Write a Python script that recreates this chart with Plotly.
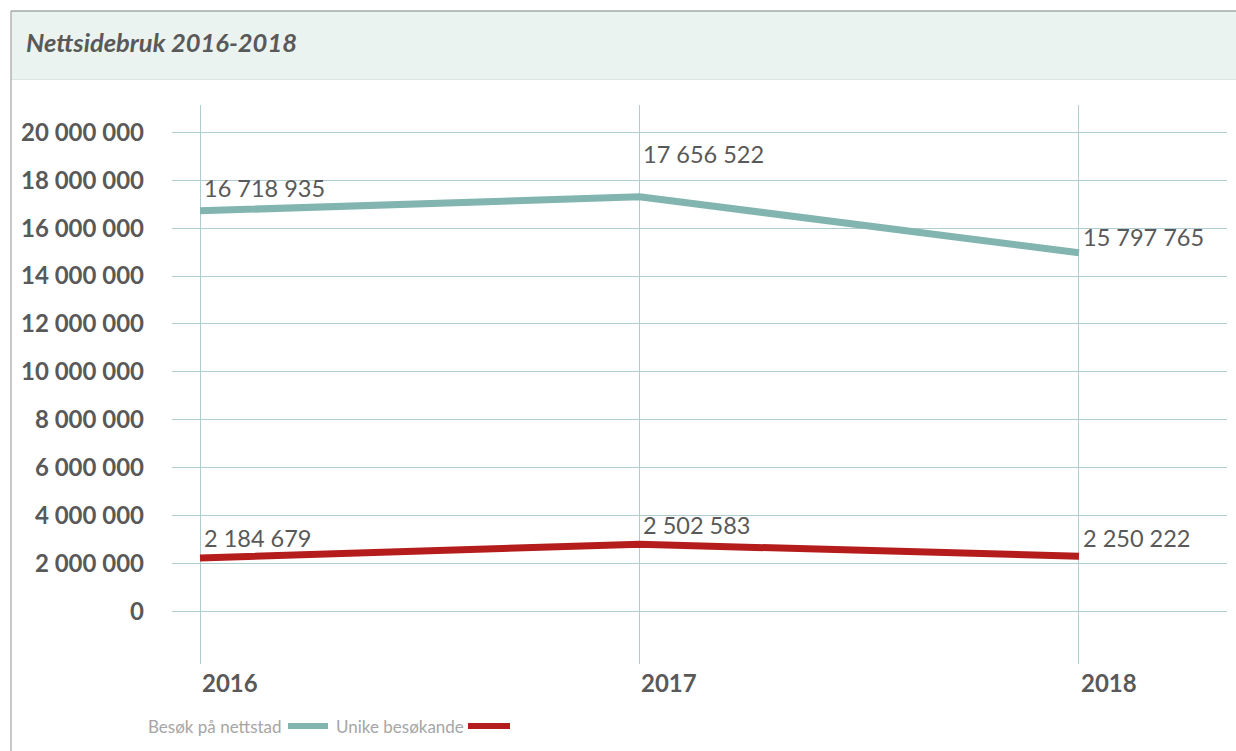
import plotly.graph_objects as go

TEXT_GREY = "#595959"
LEGEND_GREY = "#A6A6A6"
GRID = "#AFCDCF"
TEAL = "#82B5B0"
RED = "#B51C1C"
TITLE_BG = "#EAF3EF"
FONT = "Lato"

# data (line positions, labels as printed)
years = ["2016", "2017", "2018"]
series_names = ["Besøk på nettstad", "Unike besøkande"]
visits = [16_720_000, 17_310_000, 14_970_000]
unique_visitors = [2_230_000, 2_800_000, 2_300_000]
visits_labels = ["16 718 935", "17 656 522", "15 797 765"]
unique_labels = ["2 184 679", "2 502 583", "2 250 222"]
y_ticks = list(range(0, 20_000_001, 2_000_000))

# how far each printed label sits above its point (px)
visits_lift = [23, 43, 16]
unique_lift = [20, 19, 18]

# page geometry (px) used to place the frame, title box and legend
W, H = 1236, 751
L, R, T, B = 172, 9, 105, 87


def px_x(px):
    return (px - L) / (W - L - R)


def px_y(py):
    return (H - B - py) / (H - T - B)


fig = go.Figure()
for name, vals, color in [
    (series_names[0], visits, TEAL),
    (series_names[1], unique_visitors, RED),
]:
    fig.add_trace(
        go.Scatter(
            x=years,
            y=vals,
            mode="lines",
            name=name,
            line={"color": color, "width": 7},
            showlegend=False,
        )
    )

annotations = []
for vals, labels, lifts in [
    (visits, visits_labels, visits_lift),
    (unique_visitors, unique_labels, unique_lift),
]:
    for i, (v, txt, lift) in enumerate(zip(vals, labels, lifts)):
        annotations.append(
            dict(
                x=i, y=v, xref="x", yref="y", text=txt, showarrow=False,
                xanchor="left", yanchor="middle", xshift=2, yshift=lift,
                font={"family": FONT, "size": 23.5, "color": TEXT_GREY},
            )
        )

# year labels, left-aligned on their gridlines
for i, yr in enumerate(years):
    annotations.append(
        dict(
            x=i, y=px_y(682), xref="x", yref="paper", text=f"<b>{yr}</b>",
            showarrow=False, xanchor="left", yanchor="middle", xshift=0,
            font={"family": FONT, "size": 24, "color": TEXT_GREY},
        )
    )

# legend: text first, then the line sample
legend_items = [(series_names[0], 148, 288, 328, TEAL), (series_names[1], 336, 468, 510, RED)]
shapes = [
    dict(type="rect", xref="paper", yref="paper",
         x0=px_x(11), x1=px_x(1245), y0=px_y(79), y1=px_y(11),
         fillcolor=TITLE_BG, line={"width": 0}, layer="below"),
    dict(type="line", xref="paper", yref="paper",
         x0=px_x(11), x1=px_x(1245), y0=px_y(11), y1=px_y(11),
         line={"color": "#A3ABA7", "width": 1.5}),
    dict(type="line", xref="paper", yref="paper",
         x0=px_x(11), x1=px_x(1245), y0=px_y(79.5), y1=px_y(79.5),
         line={"color": "#DCE7E2", "width": 1}),
    dict(type="line", xref="paper", yref="paper",
         x0=px_x(11), x1=px_x(11), y0=px_y(11), y1=px_y(760),
         line={"color": "#A3A3A3", "width": 1.2}),
]
for name, tx, lx0, lx1, color in legend_items:
    annotations.append(
        dict(
            x=px_x(tx), y=px_y(726), xref="paper", yref="paper", text=name,
            showarrow=False, xanchor="left", yanchor="middle", xshift=-2,
            font={"family": FONT, "size": 17, "color": LEGEND_GREY},
        )
    )
    shapes.append(
        dict(type="line", xref="paper", yref="paper",
             x0=px_x(lx0), x1=px_x(lx1), y0=px_y(726), y1=px_y(726),
             line={"color": color, "width": 6})
    )

fig.update_layout(
    width=W,
    height=H,
    margin={"l": L, "r": R, "t": T, "b": B, "pad": 0},
    plot_bgcolor="#FFFFFF",
    paper_bgcolor="#FFFFFF",
    separators=", ",
    font={"family": FONT, "color": TEXT_GREY},
    title={
        "text": "<b><i>Nettsidebruk 2016-2018</i></b>",
        "xref": "container", "yref": "container",
        "x": 26 / W, "y": 1 - 43 / H,
        "xanchor": "left", "yanchor": "middle",
        "font": {"family": FONT, "size": 25.5, "color": TEXT_GREY},
    },
    xaxis={
        "type": "category",
        "range": [-0.0637, 2.3368],
        "showgrid": True,
        "gridcolor": GRID,
        "gridwidth": 1,
        "showticklabels": False,
        "showline": False,
        "zeroline": False,
        "fixedrange": True,
    },
    yaxis={
        "range": [-2_200_000, 21_140_000],
        "tickvals": y_ticks,
        "tickformat": ",d",
        "showgrid": True,
        "gridcolor": GRID,
        "gridwidth": 1,
        "zeroline": False,
        "showline": False,
        "ticklabelstandoff": 27,
        "tickfont": {"family": FONT, "size": 24, "color": TEXT_GREY, "weight": "bold"},
        "fixedrange": True,
    },
    annotations=annotations,
    shapes=shapes,
    showlegend=False,
)

fig.write_html(
    "out.html",
    config={"displayModeBar": False},
    post_script="document.body.style.margin = '0';",
)
